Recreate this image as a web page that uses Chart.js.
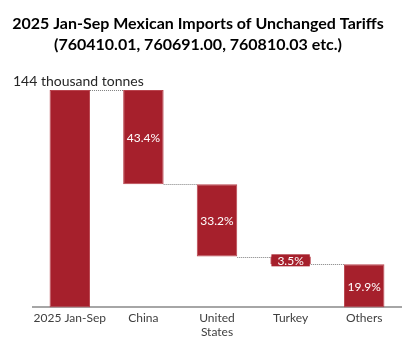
<!DOCTYPE html>
<html>
<head>
    <title>Mexican Imports Waterfall</title>
    <script src="https://cdn.jsdelivr.net/npm/chart.js"></script>
    <style>
        html, body {
            margin: 0;
            padding: 0;
            background: #fff;
        }
        #wrap {
            width: 413px;
            height: 339px;
        }
    </style>
</head>
<body>
    <div id="wrap"><canvas id="waterfall"></canvas></div>

    <script>
        const categories = ["2025 Jan-Sep", "China", ["United", "States"], "Turkey", "Others"];
        const total = 144; // thousand tonnes
        const shares = [43.4, 33.2, 3.5, 19.9]; // % of total, per source
        const barLabels = ["", "43.4%", "33.2%", "3.5%", "19.9%"];
        const titleLines = ["2025 Jan-Sep Mexican Imports of Unchanged Tariffs", "(760410.01, 760691.00, 760810.03 etc.)"];

        // floating ranges for the waterfall: total bar, then each share stepping down
        const ranges = [[0, total]];
        let level = total;
        shares.forEach(s => {
            const next = level - total * s / 100;
            ranges.push([next, level]);
            level = next;
        });

        const barColor = "#A6202C";
        const fontFamily = "Lato, 'Open Sans', sans-serif";

        // title, dotted connectors, white value labels and the unit note
        const extras = {
            id: "extras",
            afterDatasetsDraw(chart) {
                const ctx = chart.ctx;
                const meta = chart.getDatasetMeta(0);
                const y = chart.scales.y;

                ctx.save();
                ctx.fillStyle = "#000";
                ctx.font = "bold 16px " + fontFamily;
                ctx.textAlign = "center";
                ctx.textBaseline = "middle";
                ctx.fillText(titleLines[0], 198, 24);
                ctx.fillText(titleLines[1], 198, 45);

                ctx.strokeStyle = "#7f7f7f";
                ctx.lineWidth = 1;
                ctx.setLineDash([1, 1]);
                for (let i = 0; i < meta.data.length - 1; i++) {
                    const a = meta.data[i], b = meta.data[i + 1];
                    const v = ranges[i][0] === 0 ? ranges[i][1] : ranges[i][0];
                    const lv = Math.round(y.getPixelForValue(v)) + 0.5;
                    ctx.beginPath();
                    ctx.moveTo(a.x + a.width / 2, lv);
                    ctx.lineTo(b.x - b.width / 2, lv);
                    ctx.stroke();
                }
                ctx.setLineDash([]);

                ctx.font = "12px " + fontFamily;
                meta.data.forEach((bar, i) => {
                    const txt = barLabels[i];
                    if (!txt) return;
                    const cy = (bar.y + bar.base) / 2;
                    const h = Math.abs(bar.base - bar.y);
                    if (h < 16) {
                        const w = ctx.measureText(txt).width + 12;
                        ctx.fillStyle = barColor;
                        ctx.fillRect(bar.x - w / 2, cy - 6, w, 12);
                    }
                    ctx.fillStyle = "#ffffff";
                    ctx.fillText(txt, bar.x, cy + 1);
                });

                ctx.font = "14px " + fontFamily;
                ctx.fillStyle = "#262626";
                ctx.textAlign = "left";
                ctx.fillText("144 thousand tonnes", 13, chart.chartArea.top - 9);
                ctx.restore();
            }
        };

        new Chart(document.getElementById("waterfall"), {
            type: "bar",
            data: {
                labels: categories,
                datasets: [{
                    data: ranges,
                    backgroundColor: barColor,
                    borderColor: "#b9444e",
                    borderWidth: 1,
                    borderSkipped: false,
                    barPercentage: 1,
                    categoryPercentage: 0.55
                }]
            },
            plugins: [extras],
            options: {
                responsive: true,
                maintainAspectRatio: false,
                animation: false,
                layout: {
                    padding: { left: 33, right: 12, top: 90, bottom: -4 }
                },
                plugins: {
                    legend: { display: false },
                    tooltip: { enabled: false },
                    title: { display: false }
                },
                scales: {
                    x: {
                        grid: { display: false, drawTicks: false },
                        border: { color: "#a6a6a6", width: 2 },
                        ticks: {
                            color: "#404040",
                            font: { family: fontFamily, size: 12, lineHeight: 1.15 },
                            padding: 4,
                            autoSkip: false,
                            maxRotation: 0
                        }
                    },
                    y: {
                        display: false,
                        min: 0,
                        max: total
                    }
                }
            }
        });
    </script>
</body>
</html>
